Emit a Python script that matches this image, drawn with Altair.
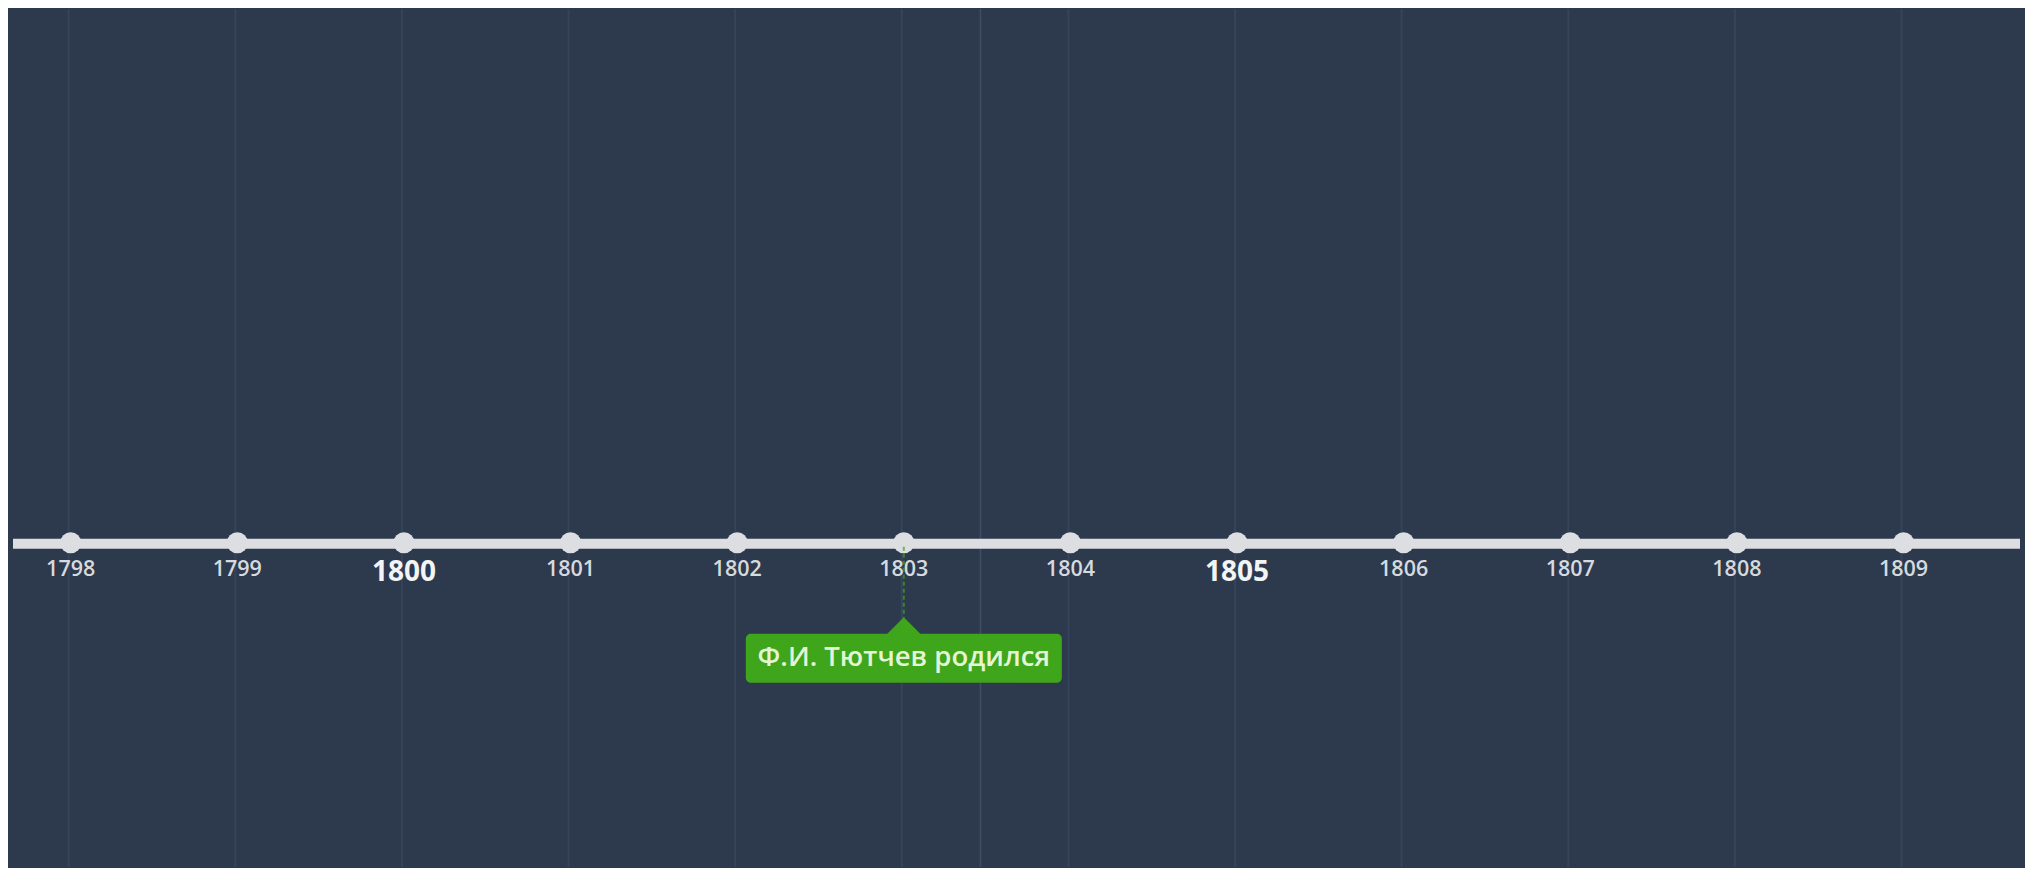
import altair as alt
import pandas as pd

# ---- data ----
YEARS = list(range(1798, 1810))
EVENT_YEARS = [1803]
EVENT_LABELS = ["Ф.И. Тютчев родился"]
CENTER_MARK = [1803.46]
TRACK = [0]

X_DOMAIN = [1797.6536, 1809.699]
Y_DOMAIN = [-0.6075, 1.0]

BG = "#2d3a4e"
GRID = "#35445a"
TRACK_COLOR = "#dcdee1"
GREEN = "#3fa51a"
FONT = "Open Sans"

years_df = pd.DataFrame({"year": YEARS, "track": 0})
major_df = years_df[years_df["year"] % 5 == 0]
minor_df = years_df[years_df["year"] % 5 != 0]
events_df = pd.DataFrame({"year": EVENT_YEARS, "label": EVENT_LABELS, "track": 0})
center_df = pd.DataFrame({"year": CENTER_MARK})
track_df = pd.DataFrame({"track": TRACK})

xs = alt.Scale(domain=X_DOMAIN, nice=False, zero=False)
ys = alt.Scale(domain=Y_DOMAIN, nice=False, zero=False)
x = alt.X("year:Q", scale=xs, axis=None)
y = alt.Y("track:Q", scale=ys, axis=None)

grid = alt.Chart(years_df).mark_rule(color=GRID, strokeWidth=2, xOffset=-2).encode(x=x)
center = alt.Chart(center_df).mark_rule(color="#3f4e64", strokeWidth=1.5).encode(x=x)

track = alt.Chart(track_df).mark_rule(
    color=TRACK_COLOR, strokeWidth=10, strokeCap="butt", yOffset=1
).encode(y=y)

dots = alt.Chart(years_df).mark_circle(size=441, color=TRACK_COLOR, opacity=1).encode(x=x, y=y)

minor_labels = alt.Chart(minor_df).mark_text(
    dy=33, baseline="alphabetic", align="center", fontSize=21.5, fontWeight=600,
    font=FONT, color="#d6dade"
).encode(x=x, y=y, text=alt.Text("year:Q", format="d"))

major_labels = alt.Chart(major_df).mark_text(
    dy=38, baseline="alphabetic", align="center", fontSize=28, fontWeight="bold",
    font=FONT, color="#f2f4f6"
).encode(x=x, y=y, text=alt.Text("year:Q", format="d"))

connector = alt.Chart(events_df).mark_rule(
    color=GREEN, strokeWidth=2, strokeDash=[4, 3], opacity=0.7, yOffset=4, y2Offset=75
).encode(x=x, y=y, y2="track:Q")

pointer = alt.Chart(events_df).mark_point(
    shape="M-1,0.5L0,-0.5L1,0.5Z", size=1156, filled=True, color=GREEN, opacity=1,
    yOffset=83
).encode(x=x, y=y)

box = alt.Chart(events_df).mark_rect(
    width=316, height=49, cornerRadius=5, color=GREEN, yOffset=115.5
).encode(x=x, y=y)

box_text = alt.Chart(events_df).mark_text(
    dy=115, baseline="middle", align="center", fontSize=27.5, fontWeight=600,
    font=FONT, color="#e4f5d6"
).encode(x=x, y=y, text="label:N")

chart = alt.layer(
    grid, center, track, dots, minor_labels, major_labels, connector, pointer, box, box_text
).properties(
    width=2017, height=860, background=BG, padding=0,
    autosize=alt.AutoSizeParams(type="fit", contains="padding"),
).configure(padding=0).configure_view(fill=BG, stroke=None)

chart.save("out.html", embed_options={"renderer": "svg", "actions": False})
